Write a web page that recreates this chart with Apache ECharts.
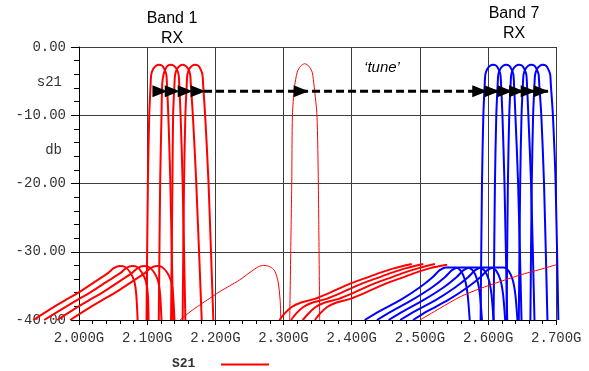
<!DOCTYPE html>
<html>
<head>
<meta charset="utf-8">
<script src="https://cdn.jsdelivr.net/npm/echarts@6/dist/echarts.min.js"></script>
<style>
  html, body { margin: 0; padding: 0; background: #fff; }
  #chart { width: 589px; height: 371px; }
</style>
</head>
<body>
<div id="chart"></div>
<script>
// axis ranges (GHz / dB)
const xMin = 2.0, xMax = 2.7, xStep = 0.1;
const yMin = -40, yMax = 0, yStep = 10;
// traces run past the left axis, so they are drawn on a wider hidden frequency axis
const xMinWide = 1.92, xMaxWide = 2.72;

// Band 1 RX filter passbands, [freq GHz, S21 dB]
const band1A = [[2.099,-40],[2.101,-20],[2.103,-10],[2.105,-5.5],[2.106,-4.0],[2.109,-3.2],[2.113,-2.75],[2.117,-2.6],[2.122,-2.75],[2.125,-3.2],[2.128,-4.0],[2.129,-5.5],[2.131,-10],[2.134,-20],[2.138,-40]];
const band1B = [[2.117,-40],[2.119,-20],[2.121,-10],[2.122,-5.5],[2.124,-4.0],[2.127,-3.2],[2.130,-2.75],[2.135,-2.6],[2.139,-2.75],[2.143,-3.2],[2.146,-4.0],[2.147,-5.5],[2.149,-10],[2.152,-20],[2.156,-40]];
const band1C = [[2.135,-40],[2.137,-20],[2.138,-10],[2.140,-5.5],[2.141,-4.0],[2.144,-3.2],[2.148,-2.75],[2.152,-2.6],[2.156,-2.75],[2.160,-3.2],[2.163,-4.0],[2.164,-5.5],[2.167,-10],[2.172,-20],[2.180,-40]];
const band1D = [[2.152,-40],[2.154,-20],[2.156,-10],[2.158,-5.5],[2.159,-4.0],[2.162,-3.2],[2.166,-2.75],[2.170,-2.6],[2.175,-2.75],[2.178,-3.2],[2.181,-4.0],[2.182,-5.5],[2.185,-10],[2.190,-20],[2.197,-40]];

// Band 1 lower spurious responses
const spurLowA = [[1.933,-40],[1.958,-38.4],[1.980,-37.1],[2.002,-35.8],[2.025,-34.3],[2.043,-33.1],[2.051,-32.4],[2.060,-32.1],[2.067,-32.2],[2.075,-33.0],[2.081,-34.3],[2.084,-36.3],[2.086,-40]];
const spurLowB = [[1.949,-40],[1.975,-38.4],[1.997,-37.1],[2.019,-35.8],[2.042,-34.3],[2.061,-33.1],[2.069,-32.4],[2.078,-32.1],[2.085,-32.2],[2.092,-33.0],[2.098,-34.3],[2.101,-36.3],[2.102,-40]];
const spurLowC = [[1.968,-40],[1.993,-38.4],[2.015,-37.1],[2.037,-35.8],[2.060,-34.3],[2.078,-33.1],[2.086,-32.4],[2.095,-32.1],[2.102,-32.2],[2.110,-33.0],[2.116,-34.3],[2.119,-36.3],[2.121,-40]];
const spurLowD = [[1.987,-40],[2.012,-38.4],[2.034,-37.1],[2.056,-35.8],[2.079,-34.3],[2.097,-33.1],[2.105,-32.4],[2.114,-32.1],[2.121,-32.2],[2.129,-33.0],[2.135,-34.3],[2.138,-36.3],[2.140,-40]];

// Band 1 upper spurious responses
const spurHighA = [[2.294,-40],[2.302,-39.0],[2.312,-38.1],[2.324,-37.5],[2.346,-36.9],[2.368,-36.0],[2.397,-34.7],[2.419,-33.9],[2.441,-33.1],[2.463,-32.4],[2.488,-31.8]];
const spurHighB = [[2.311,-40],[2.319,-39.0],[2.329,-38.1],[2.341,-37.5],[2.363,-36.9],[2.385,-36.0],[2.414,-34.7],[2.436,-33.9],[2.458,-33.1],[2.480,-32.4],[2.505,-31.8]];
const spurHighC = [[2.328,-40],[2.337,-39.0],[2.347,-38.1],[2.359,-37.5],[2.381,-36.9],[2.403,-36.0],[2.432,-34.7],[2.454,-33.9],[2.476,-33.1],[2.498,-32.4],[2.522,-31.8]];
const spurHighD = [[2.346,-40],[2.354,-39.0],[2.364,-38.1],[2.376,-37.5],[2.398,-36.9],[2.420,-36.0],[2.449,-34.7],[2.471,-33.9],[2.493,-33.1],[2.515,-32.4],[2.540,-31.9]];

// filter while being tuned (thin trace)
const tunedPass = [[2.309,-40],[2.312,-20],[2.313,-10],[2.316,-5.9],[2.320,-3.7],[2.325,-2.8],[2.331,-2.45],[2.337,-2.8],[2.342,-3.7],[2.345,-5.9],[2.349,-10],[2.351,-20],[2.353,-40]];
const tunedSpurLow = [[2.148,-40],[2.163,-38.8],[2.177,-37.8],[2.192,-36.8],[2.207,-35.8],[2.221,-35.0],[2.236,-34.1],[2.251,-33.0],[2.263,-32.2],[2.271,-32.0],[2.280,-32.2],[2.287,-32.8],[2.292,-34.4],[2.295,-37.1],[2.296,-40]];
const tunedSpurHigh = [[2.500,-40],[2.529,-38.3],[2.559,-36.6],[2.588,-35.4],[2.617,-34.4],[2.647,-33.4],[2.676,-32.6],[2.700,-31.9]];

// Band 7 RX filter passbands
const band7A = [[2.589,-40],[2.591,-20],[2.593,-10],[2.595,-5.5],[2.596,-4.0],[2.599,-3.2],[2.603,-2.75],[2.607,-2.6],[2.612,-2.75],[2.615,-3.2],[2.618,-4.0],[2.619,-5.5],[2.621,-10],[2.624,-20],[2.628,-40]];
const band7B = [[2.608,-40],[2.610,-20],[2.612,-10],[2.614,-5.5],[2.615,-4.0],[2.618,-3.2],[2.622,-2.75],[2.626,-2.6],[2.631,-2.75],[2.634,-3.2],[2.637,-4.0],[2.638,-5.5],[2.640,-10],[2.644,-20],[2.649,-40]];
const band7C = [[2.627,-40],[2.629,-20],[2.631,-10],[2.633,-5.5],[2.634,-4.0],[2.637,-3.2],[2.641,-2.75],[2.645,-2.6],[2.650,-2.75],[2.653,-3.2],[2.656,-4.0],[2.657,-5.5],[2.659,-10],[2.663,-20],[2.668,-40]];
const band7D = [[2.645,-40],[2.647,-20],[2.649,-10],[2.651,-5.5],[2.652,-4.0],[2.655,-3.2],[2.659,-2.75],[2.663,-2.6],[2.668,-2.75],[2.671,-3.2],[2.674,-4.0],[2.675,-5.5],[2.678,-10],[2.682,-20],[2.687,-40]];
const band7E = [[2.662,-40],[2.664,-20],[2.666,-10],[2.668,-5.5],[2.669,-4.0],[2.672,-3.2],[2.676,-2.75],[2.680,-2.6],[2.685,-2.75],[2.688,-3.2],[2.691,-4.0],[2.692,-5.5],[2.695,-10],[2.699,-20],[2.703,-40]];

// Band 7 lower spurious responses
const spur7A = [[2.419,-40],[2.441,-38.7],[2.471,-37.1],[2.500,-35.2],[2.519,-33.7],[2.529,-32.7],[2.538,-32.3],[2.553,-32.3],[2.560,-32.8],[2.566,-34.1],[2.570,-36.3],[2.573,-40]];
const spur7B = [[2.437,-40],[2.459,-38.7],[2.488,-37.1],[2.518,-35.2],[2.537,-33.7],[2.547,-32.7],[2.556,-32.3],[2.570,-32.3],[2.578,-32.8],[2.584,-34.1],[2.588,-36.3],[2.591,-40]];
const spur7C = [[2.454,-40],[2.476,-38.7],[2.505,-37.1],[2.535,-35.2],[2.554,-33.7],[2.564,-32.7],[2.573,-32.3],[2.587,-32.3],[2.595,-32.8],[2.601,-34.1],[2.605,-36.3],[2.608,-40]];
const spur7D = [[2.471,-40],[2.493,-38.7],[2.523,-37.1],[2.552,-35.2],[2.571,-33.7],[2.581,-32.7],[2.590,-32.3],[2.605,-32.3],[2.612,-32.8],[2.618,-34.1],[2.622,-36.3],[2.625,-40]];
const spur7E = [[2.490,-40],[2.511,-38.7],[2.541,-37.1],[2.570,-35.2],[2.589,-33.7],[2.599,-32.7],[2.608,-32.3],[2.623,-32.3],[2.630,-32.8],[2.636,-34.1],[2.640,-36.3],[2.643,-40]];

// 'tune' arrow: dashed path and arrow-head tips
const tuneLevel = -6.5;
const tuneStart = 2.113, tuneEnd = 2.688;
const arrowTips = [2.129, 2.147, 2.166, 2.185, 2.336, 2.598, 2.616, 2.635, 2.652, 2.669, 2.688];

const mono = '"Liberation Mono", "DejaVu Sans Mono", monospace';
const sans = '"Liberation Sans", Arial, sans-serif';

// plot frame in pixels
const plotLeft = 79, plotTop = 47, plotWidth = 477.3, plotHeight = 273;
const pxPerGHz = plotWidth / (xMax - xMin);

function traces(list, color, width) {
    return list.map(d => ({
        type: 'line',
        xAxisIndex: 1, yAxisIndex: 1,
        data: d,
        symbol: 'none',
        clip: false,
        smooth: 0.25,
        silent: true,
        lineStyle: {color: color, width: width}
    }))
}

const chart = echarts.init(document.getElementById('chart'))
chart.setOption({
    animation: false,
    grid: [
        {left: plotLeft, top: plotTop, width: plotWidth, height: plotHeight},
        {
            left: plotLeft - (xMin - xMinWide) * pxPerGHz, top: plotTop,
            width: (xMaxWide - xMinWide) * pxPerGHz, height: plotHeight
        }
    ],
    xAxis: [{
        type: 'value', min: xMin, max: xMax, interval: xStep,
        axisLine: {onZero: false, lineStyle: {color: '#000', width: 1}},
        axisTick: {length: 5, lineStyle: {color: '#000'}},
        minorTick: {show: true, splitNumber: 5, length: 4, lineStyle: {color: '#000'}},
        axisLabel: {
            formatter: v => v.toFixed(3) + 'G',
            fontFamily: mono, fontSize: 14, color: '#333', margin: 11
        },
        splitLine: {show: true, lineStyle: {color: '#3c3c3c', width: 1}}
    }, {
        type: 'value', gridIndex: 1, min: xMinWide, max: xMaxWide, show: false
    }],
    yAxis: [{
        type: 'value', min: yMin, max: yMax, interval: yStep,
        axisLine: {show: true, onZero: false, lineStyle: {color: '#000', width: 1}},
        axisTick: {show: true, length: 8, lineStyle: {color: '#000'}},
        minorTick: {show: true, splitNumber: 5, length: 5, lineStyle: {color: '#000'}},
        axisLabel: {
            formatter: v => v.toFixed(2),
            fontFamily: mono, fontSize: 14, color: '#333', margin: 13
        },
        splitLine: {show: true, lineStyle: {color: '#3c3c3c', width: 1}}
    }, {
        type: 'value', gridIndex: 1, min: yMin, max: yMax, show: false
    }],
    series: [
        ...traces([band7A, band7B, band7C, band7D, band7E], '#0000ff', 2),
        ...traces([spur7A, spur7B, spur7C, spur7D, spur7E], '#0000ff', 2),
        ...traces([band1A, band1B, band1C, band1D], '#ff0000', 2),
        ...traces([spurLowA, spurLowB, spurLowC, spurLowD], '#ff0000', 2),
        ...traces([spurHighA, spurHighB, spurHighC, spurHighD], '#ff0000', 2),
        ...traces([tunedPass, tunedSpurLow, tunedSpurHigh], '#ff0000', 1),
        {
            type: 'line',
            data: [[tuneStart, tuneLevel], [tuneEnd, tuneLevel]],
            symbol: 'none', silent: true, z: 5,
            lineStyle: {color: '#000', width: 3, type: [8, 4]}
        },
        {
            type: 'scatter',
            data: arrowTips.map(x => [x, tuneLevel]),
            symbol: 'triangle', symbolSize: [12, 15], symbolRotate: -90,
            symbolOffset: [-7, 0], silent: true, z: 6,
            itemStyle: {color: '#000', opacity: 1}
        }
    ],
    graphic: [
        {type: 'text', x: 172, y: 9, style: {text: 'Band 1\nRX', align: 'center', verticalAlign: 'top', font: '16px ' + sans, fill: '#000', lineHeight: 20}},
        {type: 'text', x: 514, y: 4, style: {text: 'Band 7\nRX', align: 'center', verticalAlign: 'top', font: '16px ' + sans, fill: '#000', lineHeight: 19.5}},
        {type: 'text', x: 382, y: 68, style: {text: '\u2018tune\u2019', align: 'center', verticalAlign: 'middle', font: 'italic 15px ' + sans, fill: '#000'}},
        {type: 'text', x: 62, y: 82, style: {text: 's21', align: 'right', verticalAlign: 'middle', font: '14px ' + mono, fill: '#333'}},
        {type: 'text', x: 62, y: 150, style: {text: 'db', align: 'right', verticalAlign: 'middle', font: '14px ' + mono, fill: '#333'}},
        {type: 'text', x: 172, y: 364, style: {text: 'S21', verticalAlign: 'middle', font: 'bold 13px ' + mono, fill: '#333'}},
        {type: 'line', shape: {x1: 221, y1: 364.5, x2: 269, y2: 364.5}, style: {stroke: '#ff0000', lineWidth: 2}}
    ]
})
</script>
</body>
</html>
